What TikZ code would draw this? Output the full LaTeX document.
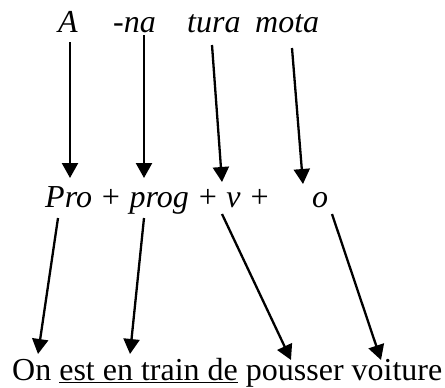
\documentclass[tikz,border=0pt]{standalone}
\usepackage{fontspec}
\setmainfont{Liberation Serif}
\usetikzlibrary{arrows.meta}
\begin{document}
\begin{tikzpicture}[x=1pt,y=-1pt,
  itword/.style={anchor=base west, inner sep=0pt, font=\fontsize{32}{36}\selectfont\itshape},
  rmword/.style={anchor=base west, inner sep=0pt, font=\fontsize{32}{36}\selectfont},
  arr/.style={line width=2.3pt, -{Triangle[length=15pt,width=16pt]}}]
\useasboundingbox (0,0) rectangle (445,388);
% top words
\node[itword] (wA) at (58,32) {A};
\node[itword] (wna) at (113,32) {-na};
\node[itword] (wtura) at (187,32) {tura};
\node[itword] (wmota) at (255,32) {mota};
% middle
\node[itword] (mid) at (45,207) {Pro + prog + v +};
\node[itword] (mo) at (312,207) {o};
% bottom
\node[rmword] (bot) at (12,380) {On \underline{est en train de} pousser voiture};
% arrow end points
\coordinate (a1s) at (70,42);  \coordinate (a1e) at (70,178);
\coordinate (a2s) at (144,35); \coordinate (a2e) at (144,178);
\coordinate (a3s) at (212,45); \coordinate (a3e) at (222,182);
\coordinate (a4s) at (292,48); \coordinate (a4e) at (303,184);
\coordinate (a5s) at (58,218); \coordinate (a5e) at (38,354);
\coordinate (a6s) at (144,218); \coordinate (a6e) at (130,354);
\coordinate (a7s) at (222,214); \coordinate (a7e) at (291,360);
\coordinate (a8s) at (332,214); \coordinate (a8e) at (381,360);
\foreach \i in {1,...,8} {\draw[arr] (a\i s) -- (a\i e);}
\end{tikzpicture}
\end{document}
